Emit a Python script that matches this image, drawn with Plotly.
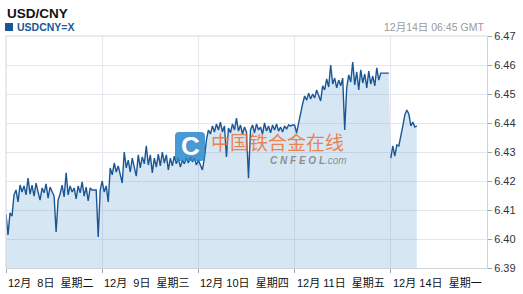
import plotly.graph_objects as go

# USD/CNY intraday quotes, one value every 30 minutes per trading session
dec08 = [6.4086, 6.4014, 6.4090, 6.4079, 6.4152, 6.4169, 6.4128, 6.4186,
         6.4162, 6.4183, 6.4152, 6.4210, 6.4155, 6.4186, 6.4148, 6.4193,
         6.4162, 6.4134, 6.4176, 6.4159, 6.4190, 6.4141, 6.4179, 6.4166,
         6.4148, 6.4024, 6.4134, 6.4155, 6.4186, 6.4145, 6.4228, 6.4152,
         6.4183, 6.4162, 6.4176, 6.4138, 6.4183, 6.4159, 6.4197, 6.4148,
         6.4179, 6.4131, 6.4176, 6.4169, 6.4169, 6.4169, 6.4007, 6.4169]
dec09 = [6.4200, 6.4162, 6.4183, 6.4128, 6.4245, 6.4221, 6.4262, 6.4231,
         6.4252, 6.4224, 6.4193, 6.4300, 6.4245, 6.4272, 6.4231, 6.4279,
         6.4252, 6.4217, 6.4290, 6.4245, 6.4283, 6.4259, 6.4321, 6.4255,
         6.4290, 6.4228, 6.4279, 6.4248, 6.4293, 6.4252, 6.4300, 6.4262,
         6.4290, 6.4238, 6.4279, 6.4252, 6.4286, 6.4259, 6.4279, 6.4248,
         6.4272, 6.4259, 6.4279, 6.4262, 6.4283, 6.4266, 6.4279, 6.4255]
dec10 = [6.4272, 6.4255, 6.4238, 6.4279, 6.4341, 6.4376, 6.4362, 6.4390,
         6.4369, 6.4397, 6.4376, 6.4403, 6.4369, 6.4390, 6.4283, 6.4383,
         6.4366, 6.4397, 6.4376, 6.4417, 6.4372, 6.4393, 6.4362, 6.4386,
         6.4369, 6.4210, 6.4376, 6.4393, 6.4366, 6.4397, 6.4376, 6.4386,
         6.4362, 6.4400, 6.4372, 6.4390, 6.4366, 6.4393, 6.4376, 6.4397,
         6.4372, 6.4386, 6.4369, 6.4390, 6.4379, 6.4393, 6.4390, 6.4393]
dec11 = [6.4393, 6.4366, 6.4403, 6.4431, 6.4466, 6.4493, 6.4479, 6.4503,
         6.4483, 6.4500, 6.4486, 6.4514, 6.4493, 6.4476, 6.4528, 6.4514,
         6.4552, 6.4524, 6.4600, 6.4534, 6.4555, 6.4521, 6.4548, 6.4528,
         6.4555, 6.4376, 6.4521, 6.4566, 6.4541, 6.4610, 6.4531, 6.4576,
         6.4514, 6.4583, 6.4538, 6.4569, 6.4521, 6.4579, 6.4534, 6.4562,
         6.4528, 6.4590, 6.4548, 6.4572, 6.4572, 6.4572, 6.4572, 6.4572]
dec14 = [6.4279, 6.4321, 6.4286, 6.4324, 6.4321, 6.4362, 6.4390, 6.4428,
         6.4445, 6.4431, 6.4390, 6.4403, 6.4386, 6.4390]

sessions = [dec08, dec09, dec10, dec11, dec14]
day_labels = ["12月\u00a0\u00a08日\u00a0\u00a0星期二", "12月\u00a0\u00a09日\u00a0\u00a0星期三",
              "12月\u00a010日\u00a0\u00a0星期四", "12月\u00a011日\u00a0\u00a0星期五",
              "12月\u00a014日\u00a0\u00a0星期一"]
y_ticks = [6.39, 6.40, 6.41, 6.42, 6.43, 6.44, 6.45, 6.46, 6.47]

LINE = "#1b5795"
SLOTS = 48  # half-hour slots per session

# session position on the axis: day index + fraction of the day
xs, ys = [], []
seg_x, seg_y = [], []
for d, vals in enumerate(sessions):
    sx = [d + i / SLOTS for i in range(len(vals))]
    xs += sx
    ys += vals
    seg_x.append(sx)
    seg_y.append(vals)

fig = go.Figure()
# shaded area under the whole series
fig.add_trace(go.Scatter(x=xs, y=ys, mode="lines", line=dict(width=0),
                         fill="tozeroy", fillcolor="rgba(40,120,190,0.19)",
                         hoverinfo="skip", showlegend=False))
# price line: continuous through the week, restarting after the weekend
week_x = seg_x[0] + seg_x[1] + seg_x[2] + seg_x[3]
week_y = seg_y[0] + seg_y[1] + seg_y[2] + seg_y[3]
for lx, ly in [(week_x, week_y), (seg_x[4], seg_y[4])]:
    fig.add_trace(go.Scatter(x=lx, y=ly, mode="lines",
                             line=dict(color=LINE, width=1.4),
                             showlegend=False))

W, H = 523, 294
L, R, T, B = 6, 36, 36, 26
pw, ph = W - L - R, H - T - B


def px(x):
    return (x - L) / pw


def py(y):
    return (H - B - y) / ph


FONT = "Arial, Liberation Sans, Noto Sans CJK SC, sans-serif"

annotations = [
    dict(text="<b>USD/CNY</b>", x=px(5), y=py(13), xanchor="left", yanchor="middle",
         font=dict(size=13.5, color="#111111", family=FONT)),
    dict(text="<b>USDCNY=X</b>", x=px(15), y=py(27), xanchor="left", yanchor="middle",
         font=dict(size=10.5, color=LINE, family=FONT)),
    dict(text="12月14日 06:45 GMT", x=px(486), y=py(27), xanchor="right", yanchor="middle",
         font=dict(size=10.5, color="#9a9a9a", family=FONT)),
    # watermark
    dict(text="中国铁合金在线", x=px(209), y=py(141), xanchor="left", yanchor="middle",
         font=dict(size=19, color="rgba(238,112,48,0.85)", family="Noto Sans CJK SC")),
    dict(text="<b><i>C N F E O L</i></b><i>.com</i>", x=px(268), y=py(160),
         xanchor="left", yanchor="middle",
         font=dict(size=10, color="rgba(120,120,120,0.8)", family=FONT)),
    dict(text="<b>C</b>", x=px(190), y=py(146), xanchor="center", yanchor="middle",
         font=dict(size=26, color="white", family=FONT)),
]
for d, lab in enumerate(day_labels):
    annotations.append(dict(text=lab, x=d, xref="x", y=py(283), xanchor="left",
                            yanchor="middle", font=dict(size=11, color="#111111",
                                                        family=FONT)))
for a in annotations:
    a.setdefault("xref", "paper")
    a["yref"] = "paper"
    a["showarrow"] = False

logo = dict(type="path", xref="paper", yref="paper",
            path=(f"M {px(179)},{py(132)} L {px(201)},{py(132)} "
                  f"Q {px(205)},{py(132)} {px(205)},{py(136)} L {px(205)},{py(157)} "
                  f"Q {px(205)},{py(161)} {px(201)},{py(161)} L {px(179)},{py(161)} "
                  f"Q {px(175)},{py(161)} {px(175)},{py(157)} L {px(175)},{py(136)} "
                  f"Q {px(175)},{py(132)} {px(179)},{py(132)} Z"),
            fillcolor="rgba(40,135,205,0.85)", line=dict(width=0), layer="above")
legend_box = dict(type="rect", xref="paper", yref="paper",
                  x0=px(5), x1=px(13), y0=py(31), y1=py(23),
                  fillcolor=LINE, line=dict(width=0))
top_rule = dict(type="line", xref="paper", yref="paper", x0=0, x1=1, y0=1, y1=1,
                line=dict(color="#d8d8d8", width=1))

fig.update_layout(
    width=W, height=H,
    margin=dict(l=L, r=R, t=T, b=B),
    paper_bgcolor="white", plot_bgcolor="white",
    showlegend=False,
    annotations=annotations,
    shapes=[logo, legend_box, top_rule],
    xaxis=dict(range=[0, 5], tickvals=[0, 1, 2, 3, 4], showticklabels=False,
               ticks="outside", ticklen=4, tickcolor="#9aa7b4",
               showgrid=True, gridcolor="#e4e8ee", gridwidth=1,
               showline=True, linecolor="#d0d4da", zeroline=False, mirror=False),
    yaxis=dict(range=[6.39, 6.47], side="right", tickvals=y_ticks,
               tickformat=".2f", ticks="outside", ticklen=4, tickcolor="#9aa7b4",
               tickfont=dict(size=11, color="#333333", family=FONT),
               showgrid=True, gridcolor="#e4e8ee", gridwidth=1,
               showline=True, linecolor="#d0d4da", zeroline=False),
)
# left frame edge
fig.add_shape(type="line", xref="paper", yref="paper", x0=0, x1=0, y0=0, y1=1,
              line=dict(color="#d0d4da", width=1))

fig.write_html("out.html")
